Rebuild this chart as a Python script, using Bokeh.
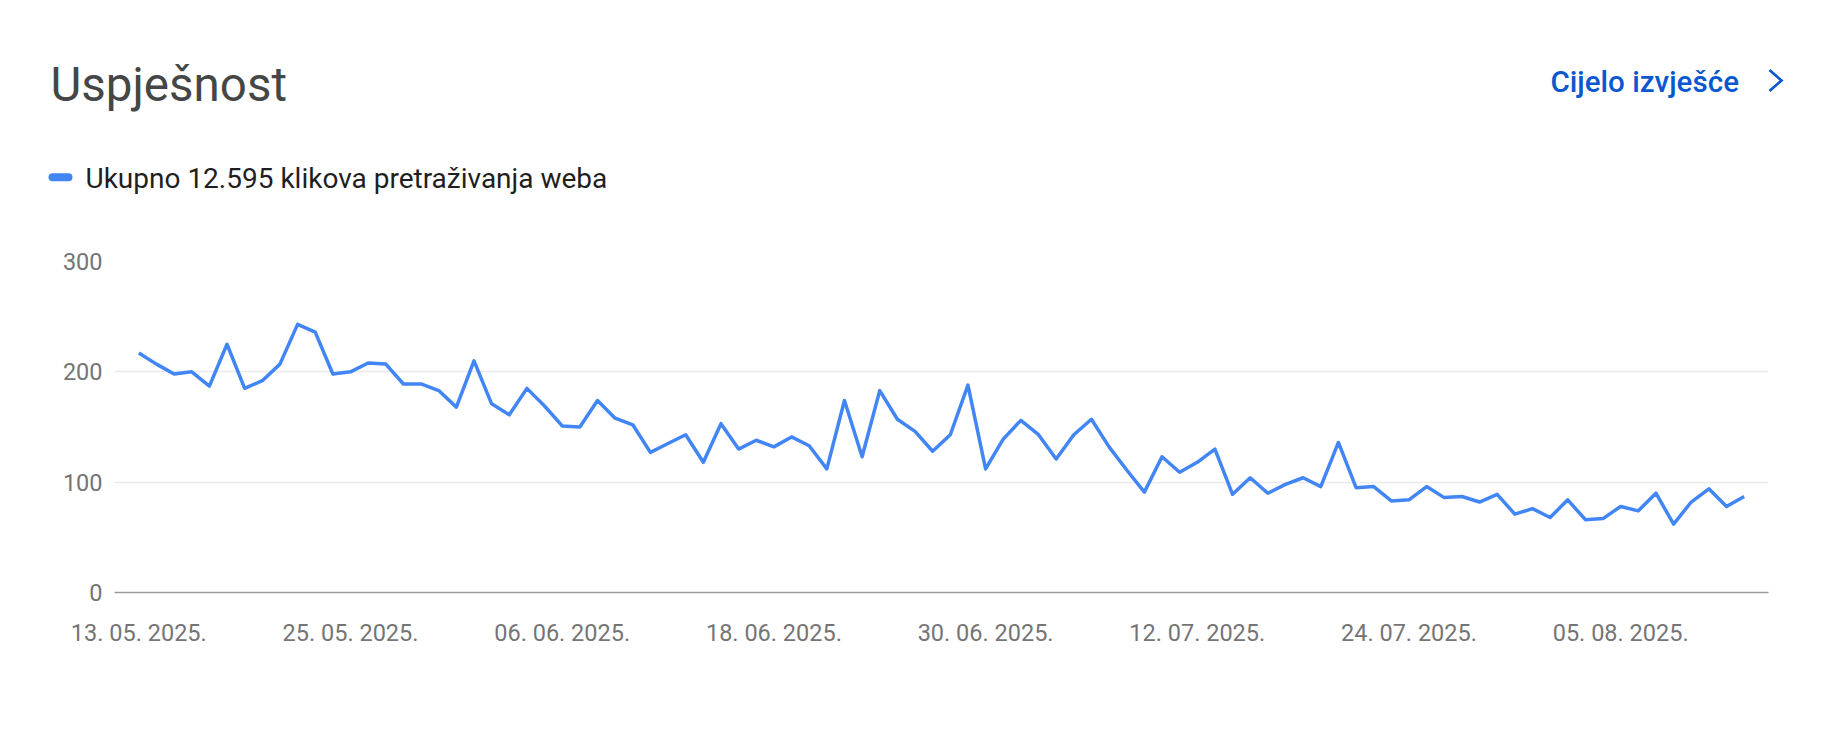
import datetime as dt
from bokeh.plotting import figure
from bokeh.layouts import column
from bokeh.models import Range1d, FixedTicker, ColumnDataSource
from bokeh.core.properties import value
from bokeh.embed import file_html
from bokeh.resources import INLINE

# ---------------- data ----------------
start_date = dt.date(2025, 5, 13)
clicks = [217, 207, 198, 200, 187, 225, 185, 192, 207, 243,
          236, 198, 200, 208, 207, 189, 189, 183, 168, 210,
          171, 161, 185, 169, 151, 150, 174, 158, 152, 127,
          135, 143, 118, 153, 130, 138, 132, 141, 133, 112,
          174, 123, 183, 157, 146, 128, 143, 188, 112, 139,
          156, 143, 121, 143, 157, 132, 111, 91, 123, 109,
          118, 130, 89, 104, 90, 98, 104, 96, 136, 95,
          96, 83, 84, 96, 86, 87, 82, 89, 71, 76,
          68, 84, 66, 67, 78, 74, 90, 62, 82, 94,
          78, 87]
tick_dates = [dt.date(2025, 5, 13), dt.date(2025, 5, 25), dt.date(2025, 6, 6),
              dt.date(2025, 6, 18), dt.date(2025, 6, 30), dt.date(2025, 7, 12),
              dt.date(2025, 7, 24), dt.date(2025, 8, 5)]
tick_labels = ["13. 05. 2025.", "25. 05. 2025.", "06. 06. 2025.", "18. 06. 2025.",
               "30. 06. 2025.", "12. 07. 2025.", "24. 07. 2025.", "05. 08. 2025."]
y_ticks = [0, 100, 200, 300]
title_text = "Uspješnost"
legend_text = "Ukupno 12.595 klikova pretraživanja weba"
link_text = "Cijelo izvješće"

days = list(range(len(clicks)))
tick_pos = [(d - start_date).days for d in tick_dates]

# ---------------- layout constants ----------------
FONT = "Roboto"
W = 1824
HEADER_H = 200
MAIN_H = 530
BLUE = "#4285f4"
LINK = "#0b57d0"

# ---------------- header (pixel space) ----------------
hdr = figure(width=W, height=HEADER_H, x_range=Range1d(0, W), y_range=Range1d(HEADER_H, 0),
             output_backend="svg", toolbar_location=None, min_border=0,
             x_axis_location=None, y_axis_location=None)
hdr.frame_align = False
hdr.grid.visible = False
hdr.outline_line_color = None
hdr.background_fill_color = "white"
hdr.border_fill_color = "white"

hdr.text(x=[50], y=[84.5], text=[title_text], text_font=value(FONT),
         text_font_size="47.5px", text_color="#444746", text_baseline="alphabetic")
hdr.line(x=[52, 68], y=[176.7, 176.7], line_color=BLUE, line_width=8, line_cap="round")
hdr.text(x=[85], y=[178.2], text=[legend_text], text_font=value(FONT),
         text_font_size="28px", text_color="#1f1f1f", text_baseline="alphabetic")
hdr.text(x=[1550], y=[81.9], text=[link_text], text_font=value("Roboto Medium, Roboto"),
         text_font_size="29.5px", text_color=LINK, text_baseline="alphabetic")
hdr.line(x=[1769, 1781, 1769], y=[69.5, 80, 90.5], line_color=LINK, line_width=2.7,
         line_join="miter")

# ---------------- main chart ----------------
src = ColumnDataSource(dict(day=days, clicks=clicks))
p = figure(width=W, height=MAIN_H, x_range=Range1d(-1.378, 92.38), y_range=Range1d(0, 300),
           output_backend="svg", toolbar_location=None,
           min_border_left=114, min_border_right=56, min_border_top=61, min_border_bottom=138)
p.frame_align = False
p.outline_line_color = None
p.background_fill_color = "white"
p.border_fill_color = "white"

p.line(x="day", y="clicks", source=src, line_color=BLUE, line_width=3.5, line_join="round")

p.xgrid.grid_line_color = None
p.ygrid.ticker = FixedTicker(ticks=y_ticks)
p.ygrid.grid_line_color = "#ebebeb"
p.ygrid.grid_line_width = 1.5

xa = p.xaxis[0]
xa.ticker = FixedTicker(ticks=tick_pos)
xa.major_label_overrides = {pos: lab for pos, lab in zip(tick_pos, tick_labels)}
xa.axis_line_color = "#9a9a9a"
xa.axis_line_width = 1.6
xa.major_tick_line_color = None
xa.minor_tick_line_color = None
xa.major_label_standoff = 20
xa.major_label_text_font = FONT
xa.major_label_text_font_size = "23.5px"
xa.major_label_text_color = "#757575"

ya = p.yaxis[0]
ya.ticker = FixedTicker(ticks=y_ticks)
ya.axis_line_color = None
ya.major_tick_line_color = None
ya.minor_tick_line_color = None
ya.major_tick_out = 0
ya.major_tick_in = 0
ya.major_label_standoff = 12
ya.major_label_text_font = FONT
ya.major_label_text_font_size = "23.5px"
ya.major_label_text_color = "#757575"

layout = column(hdr, p, spacing=0)
open("out.html", "w").write(file_html(layout, INLINE))
